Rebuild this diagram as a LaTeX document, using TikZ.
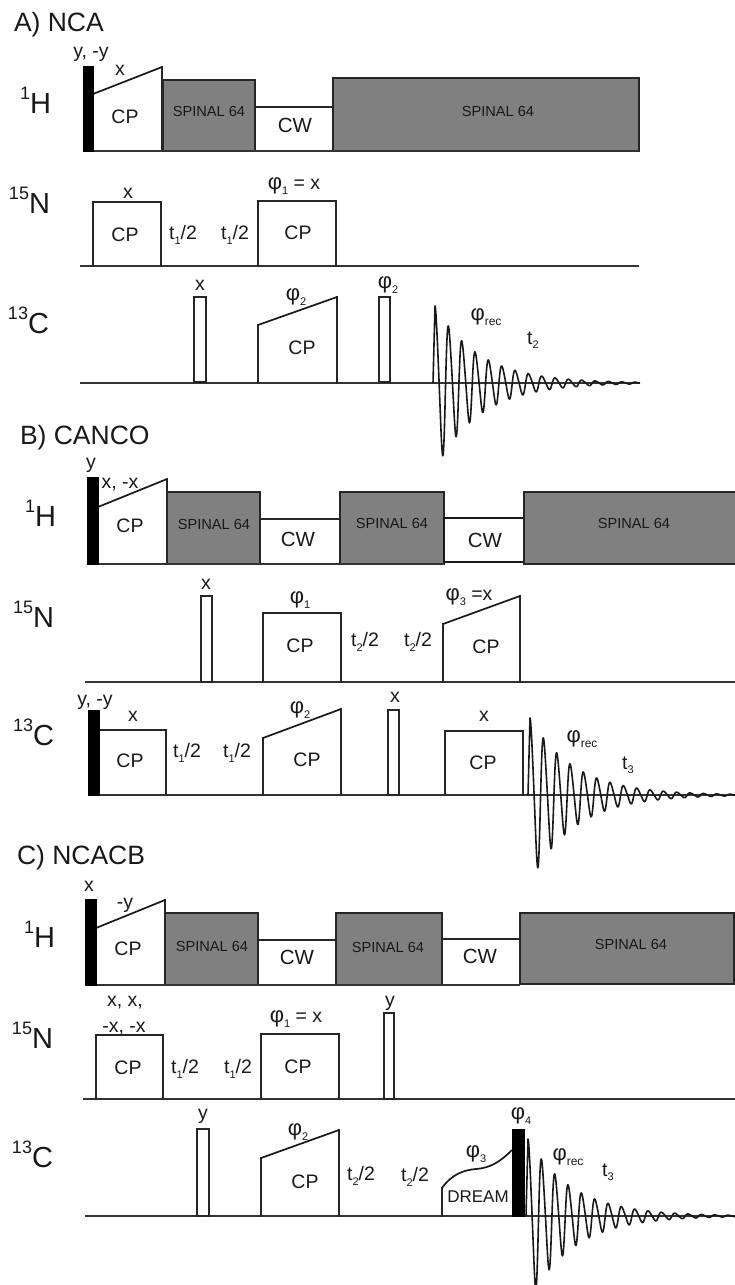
\documentclass[tikz,border=0pt]{standalone}
\usepackage{fontspec}
\setmainfont{Liberation Sans}
\newcommand{\fsz}[1]{\fontsize{#1}{#1}\selectfont}
\newcommand{\dn}[1]{\raisebox{-4.5pt}{\fsz{11}#1}}
\newcommand{\dnr}[1]{\raisebox{-5pt}{\fsz{12}#1}}
\newcommand{\phv}{{\fsz{22}φ}}
\newcommand{\nuc}[2]{\raisebox{13.5pt}{\fsz{18}#1}{\fsz{29}#2}}
\tikzset{
  line/.style={line width=1.3pt,black!85,line cap=rect,line join=miter},
  base/.style={line width=1.4pt,black!80},
  ramptop/.style={line width=1.7pt,black!90},
  graybox/.style={fill=black!50,draw=black!85,line width=1.5pt},
  barblk/.style={fill=black,draw=black,line width=0.6pt},
  pulsebox/.style={fill=white,draw=black!85,line width=1.3pt},
  fidline/.style={line width=1.6pt,black!90,line join=round},
  txt/.style={inner sep=0pt,outer sep=0pt,font=\fsz{19.5},text=black!90},
  spin/.style={txt,font=\fsz{14.6}},
  cwt/.style={txt,font=\fsz{20.5}},
  head/.style={inner sep=0pt,outer sep=0pt,font=\fsz{26.5},anchor=west,text=black!90},
  nucl/.style={inner sep=0pt,outer sep=0pt,anchor=base west,text=black!90}
}
\newcommand{\bx}[4]{\draw[line] (#1,#4) -- (#1,#3) -- (#2,#3) -- (#2,#4);}
\newcommand{\rmp}[5]{\draw[line] (#1,#5) -- (#1,#3);\draw[line] (#2,#4) -- (#2,#5);\draw[ramptop] (#1,#3) -- (#2,#4);}
\newcommand{\gb}[4]{\draw[graybox] (#1,#3) rectangle (#2,#4);}
\newcommand{\grb}[4]{\fill[black!50] (#1,#3) rectangle (#2,#4);\draw[line width=1.5pt,black!85] (#2,#3) -- (#1,#3) -- (#1,#4) -- (#2,#4);}
\newcommand{\blk}[4]{\draw[barblk] (#1,#3) rectangle (#2,#4);}
\newcommand{\pls}[4]{\draw[pulsebox] (#1,#3) rectangle (#2,#4);}
% FID: x of first peak, baseline y, amplitude, length, foot x
\newcommand{\fid}[5]{\draw[fidline] (#5,#2) -- (#1,#2-0.94*#3) -- plot[domain=0:#4,samples=500] ({#1+\x},{#2-#3*exp(-0.0226*\x)*(cos(27*\x-18*(1-cos(27*\x)))-0.06)});}
\begin{document}
\begin{tikzpicture}[x=1pt,y=-1pt]
\useasboundingbox (0,0) rectangle (735,1285);
\fill[white] (0,0) rectangle (735,1285);

%% ---------- A ----------
\node[head] (Ahead) at (14,25) {A) NCA};
\node[nucl] (AH) at (20,113) {\nuc{1}{H}};
\node[nucl] (AN) at (9,213) {\nuc{15}{N}};
\node[nucl] (AC) at (8,333) {\nuc{13}{C}};
% 1H
\rmp{93}{162}{94}{67}{151}
\gb{163}{255}{80}{151}
\bx{255}{333}{107}{151}
\gb{333}{639}{78}{151}
\draw[base] (93,151) -- (639,151);
\blk{83}{93}{66}{151}
\node[txt] (Aa1) at (91,54) {y, -y};
\node[txt] (Aa2) at (120,70) {x};
\node[txt] (Aa3) at (125,117) {CP};
\node[spin] (Aa4) at (209,111) {SPINAL 64};
\node[cwt] (Aa5) at (295,125) {CW};
\node[spin] (Aa6) at (498,111) {SPINAL 64};
% 15N
\draw[base] (80,266) -- (639,266);
\bx{93}{161}{202}{266}
\bx{258}{336}{201}{266}
\node[txt] (Ab1) at (128,193) {x};
\node[txt] (Ab2) at (125,235) {CP};
\node[txt] (Ab3) at (183,235) {t\dn{1}/2};
\node[txt] (Ab4) at (235,235) {t\dn{1}/2};
\node[txt] (Ab5) at (294,186) {\phv\dn{1} = x};
\node[txt] (Ab6) at (298,233) {CP};
% 13C
\draw[base] (80,383) -- (640,383);
\pls{194}{206}{297}{382}
\rmp{258}{337}{325}{297}{383}
\pls{379}{390}{297}{382}
\fid{435}{383}{82}{205}{433}
\node[txt] (Ac1) at (200,285) {x};
\node[txt] (Ac2) at (296,297) {\phv\dn{2}};
\node[txt] (Ac3) at (302,348) {CP};
\node[txt] (Ac4) at (388,285) {\phv\dn{2}};
\node[txt] (Ac5) at (486,317) {\phv\dnr{rec}};
\node[txt] (Ac6) at (533,340) {t\dn{2}};

%% ---------- B ----------
\node[head] (Bhead) at (20,438) {B) CANCO};
\node[nucl] (BH) at (25,526) {\nuc{1}{H}};
\node[nucl] (BN) at (13,627) {\nuc{15}{N}};
\node[nucl] (BC) at (13,745) {\nuc{13}{C}};
% 1H
\rmp{98}{167}{507}{479}{564}
\gb{167}{260}{492}{564}
\bx{260}{340}{519}{564}
\gb{340}{444}{492}{564}
\draw[line width=1.6pt,black!90] (444,518) rectangle (524,562);
\grb{524}{735}{492}{564}
\draw[base] (98,564) -- (444,564);
\blk{87}{98}{477}{564}
\node[txt] (Ba1) at (91,465) {y};
\node[txt] (Ba2) at (120,485) {x, -x};
\node[txt] (Ba3) at (130,526) {CP};
\node[spin] (Ba4) at (214,524) {SPINAL 64};
\node[cwt] (Ba5) at (298,539) {CW};
\node[spin] (Ba6) at (392,523) {SPINAL 64};
\node[cwt] (Ba7) at (485,540) {CW};
\node[spin] (Ba8) at (634,523) {SPINAL 64};
% 15N
\draw[base] (85,682) -- (735,682);
\pls{201}{212}{596}{682}
\bx{263}{341}{613}{682}
\rmp{443}{520}{624}{596}{682}
\node[txt] (Bb1) at (206,584) {x};
\node[txt] (Bb2) at (300,600) {\phv\dn{1}};
\node[txt] (Bb3) at (300,646) {CP};
\node[txt] (Bb4) at (365,642) {t\dn{2}/2};
\node[txt] (Bb5) at (418,642) {t\dn{2}/2};
\node[txt] (Bb6) at (469,597) {\phv\dn{3} =x};
\node[txt] (Bb7) at (486,647) {CP};
% 13C
\draw[base] (88,795) -- (735,795);
\bx{99}{166}{730}{795}
\rmp{263}{341}{738}{709}{795}
\pls{388}{399}{710}{795}
\bx{445}{523}{731}{795}
\blk{88}{99}{710}{795}
\fid{530}{795}{82}{205}{528}
\node[txt] (Bc1) at (95,702) {y, -y};
\node[txt] (Bc2) at (133,716) {x};
\node[txt] (Bc3) at (130,761) {CP};
\node[txt] (Bc4) at (187,753) {t\dn{1}/2};
\node[txt] (Bc5) at (237,753) {t\dn{1}/2};
\node[txt] (Bc6) at (300,710) {\phv\dn{2}};
\node[txt] (Bc7) at (307,760) {CP};
\node[txt] (Bc8) at (395,697) {x};
\node[txt] (Bc9) at (484,716) {x};
\node[txt] (Bc10) at (483,763) {CP};
\node[txt] (Bc11) at (582,739) {\phv\dnr{rec}};
\node[txt] (Bc12) at (628,765) {t\dn{3}};

%% ---------- C ----------
\node[head] (Chead) at (17,858) {C) NCACB};
\node[nucl] (CH) at (24,947) {\nuc{1}{H}};
\node[nucl] (CN) at (12,1048) {\nuc{15}{N}};
\node[nucl] (CC) at (12,1167) {\nuc{13}{C}};
% 1H
\rmp{96}{165}{928}{900}{985}
\gb{165}{258}{913}{985}
\bx{258}{336}{940}{985}
\gb{336}{442}{913}{985}
\bx{442}{520}{939}{984}
\gb{520}{734}{913}{984}
\draw[base] (96,985) -- (520,985);
\blk{85}{96}{899}{985}
\node[txt] (Ca1) at (89,886) {x};
\node[txt] (Ca2) at (125,905) {-y};
\node[txt] (Ca3) at (128,949) {CP};
\node[spin] (Ca4) at (212,946) {SPINAL 64};
\node[cwt] (Ca5) at (297,957) {CW};
\node[spin] (Ca6) at (388,947) {SPINAL 64};
\node[cwt] (Ca7) at (480,956) {CW};
\node[spin] (Ca8) at (631,944) {SPINAL 64};
% 15N
\draw[base] (83,1099) -- (735,1099);
\bx{96}{163}{1035}{1099}
\bx{261}{339}{1034}{1099}
\pls{384}{394}{1013}{1099}
\node[txt] (Cb1) at (125,1003) {x, x,};
\node[txt] (Cb2) at (124,1029) {-x, -x};
\node[txt] (Cb3) at (128,1068) {CP};
\node[txt] (Cb4) at (185,1069) {t\dn{1}/2};
\node[txt] (Cb5) at (238,1069) {t\dn{1}/2};
\node[txt] (Cb6) at (296,1019) {\phv\dn{1} = x};
\node[txt] (Cb7) at (298,1067) {CP};
\node[txt] (Cb8) at (390,1003) {y};
% 13C
\draw[base] (85,1216) -- (735,1216);
\pls{197}{209}{1129}{1216}
\rmp{261}{339}{1158}{1130}{1216}
\draw[line] (442,1216) -- (442,1188);
\draw[ramptop] (442,1188) .. controls (452,1174) and (464,1170) .. (476,1169) .. controls (490,1168) and (500,1162) .. (512,1150);
\blk{512}{524}{1129}{1216}
\fid{528}{1216}{82}{207}{526}
\node[txt] (Cc1) at (203,1116) {y};
\node[txt] (Cc2) at (298,1132) {\phv\dn{2}};
\node[txt] (Cc3) at (305,1182) {CP};
\node[txt] (Cc4) at (361,1176) {t\dn{2}/2};
\node[txt] (Cc5) at (415,1177) {t\dn{2}/2};
\node[txt] (Cc6) at (476,1154) {\phv\dn{3}};
\node[txt,font=\fsz{17}] (Cc7) at (478,1197) {DREAM};
\node[txt] (Cc8) at (521,1116) {\phv\dn{4}};
\node[txt] (Cc9) at (568,1157) {\phv\dnr{rec}};
\node[txt] (Cc10) at (608,1172) {t\dn{3}};
\end{tikzpicture}
\end{document}
